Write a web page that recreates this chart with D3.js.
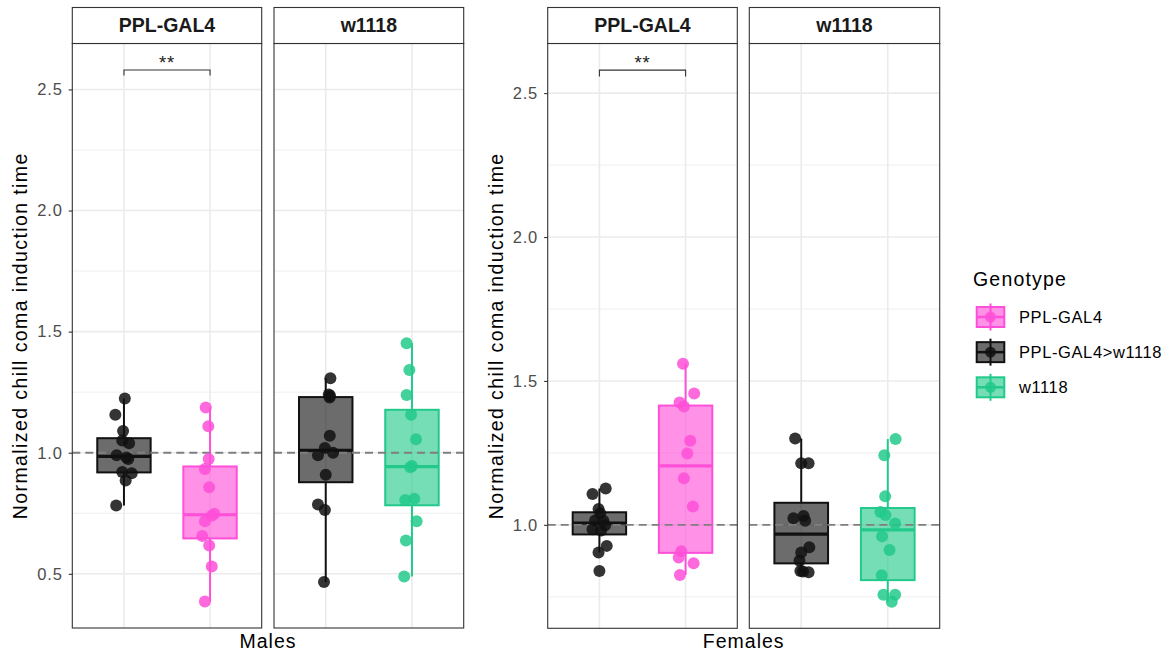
<!DOCTYPE html>
<html><head><meta charset="utf-8">
<script src="https://cdn.jsdelivr.net/npm/d3@7"></script>
<style>
html,body{margin:0;padding:0;background:#fff;}
svg{display:block;font-family:"Liberation Sans",Arial,Helvetica,sans-serif;}
</style></head>
<body><svg id="chart" width="1171" height="655"></svg>
<script>
// ---------------- DATA ----------------
const genotypes = ["PPL-GAL4", "PPL-GAL4>w1118", "w1118"];
const facets = ["PPL-GAL4", "w1118"];
const sexes = ["Males", "Females"];
const yTitle = "Normalized chill coma induction time";
const majorTicks = [0.5, 1.0, 1.5, 2.0, 2.5];
const minorTicks = [0.25, 0.75, 1.25, 1.75, 2.25];
const refLine = 1.0;
const signifLabel = "**";
const signifY = 2.58;
const signifTip = 0.022;

// Males, facet PPL-GAL4
const malesPPL_cross = [1.224, 1.157, 1.09, 1.05, 1.039, 0.99, 0.98, 0.974, 0.92, 0.915, 0.885, 0.782];
const malesPPL_cross_jit = [0.01, -0.10, -0.01, -0.02, 0.06, -0.085, 0.03, 0.05, -0.02, 0.09, 0.02, -0.09];
const malesPPL_gal4 = [1.187, 1.109, 0.974, 0.933, 0.857, 0.748, 0.74, 0.717, 0.656, 0.617, 0.53, 0.386];
const malesPPL_gal4_jit = [-0.05, -0.02, -0.016, -0.06, -0.01, 0.05, 0.02, -0.06, -0.09, -0.01, 0.02, -0.06];
// Males, facet w1118
const malesW_cross = [1.308, 1.24, 1.235, 1.228, 1.07, 1.02, 1.0, 0.99, 0.909, 0.786, 0.764, 0.466];
const malesW_cross_jit = [0.054, 0.035, 0.05, 0.045, 0.047, -0.01, 0.085, -0.09, 0.0, -0.09, -0.01, -0.02];
const malesW_w1118 = [1.452, 1.342, 1.238, 1.157, 1.056, 0.945, 0.94, 0.81, 0.805, 0.717, 0.638, 0.489];
const malesW_w1118_jit = [-0.062, -0.03, -0.062, -0.01, 0.047, 0.0, -0.02, 0.027, -0.078, 0.054, -0.07, -0.09];
// Females, facet PPL-GAL4
const femalesPPL_cross = [1.126, 1.107, 1.055, 1.04, 1.015, 1.014, 0.999, 0.985, 0.98, 0.927, 0.904, 0.84];
const femalesPPL_cross_jit = [0.073, -0.08, -0.01, 0.01, -0.05, 0.046, 0.066, -0.08, 0.02, 0.085, -0.01, 0.0];
const femalesPPL_gal4 = [1.56, 1.456, 1.425, 1.411, 1.292, 1.248, 1.162, 1.064, 0.908, 0.887, 0.867, 0.826];
const femalesPPL_gal4_jit = [-0.03, 0.1, -0.07, -0.02, 0.054, 0.02, -0.02, 0.085, -0.05, -0.08, 0.093, -0.066];
// Females, facet w1118
const femalesW_cross = [1.3, 1.214, 1.214, 1.031, 1.023, 1.014, 0.922, 0.904, 0.875, 0.84, 0.838, 0.835];
const femalesW_cross_jit = [-0.07, 0.0, 0.085, 0.027, -0.09, 0.046, 0.093, 0.0, -0.02, -0.01, 0.02, 0.085];
const femalesW_w1118 = [1.298, 1.242, 1.099, 1.045, 1.034, 1.005, 0.96, 0.913, 0.825, 0.757, 0.757, 0.733];
const femalesW_w1118_jit = [0.09, -0.04, -0.03, -0.085, -0.027, 0.085, -0.066, 0.02, -0.07, -0.05, 0.085, 0.046];

// ---------------- STYLE / LAYOUT ----------------
const colorScale = d3.scaleOrdinal().domain(genotypes).range(["#FF4FD8", "#111111", "#22C98B"]);
const FONT_GREY = "#4D4D4D";
const BORDER = "#333333";
const GRID = "#EBEBEB";

const plots = [
  { sex: sexes[0], titleX: 26.7, panels: [[72.3, 261.7], [274, 463.7]], bottom: 628,
    groups: [
      [{ g: genotypes[1], v: malesPPL_cross, j: malesPPL_cross_jit }, { g: genotypes[0], v: malesPPL_gal4, j: malesPPL_gal4_jit }],
      [{ g: genotypes[1], v: malesW_cross, j: malesW_cross_jit }, { g: genotypes[2], v: malesW_w1118, j: malesW_w1118_jit }]
    ] },
  { sex: sexes[1], titleX: 502.7, panels: [[547.7, 737.3], [749.3, 939.7]], bottom: 628.3,
    groups: [
      [{ g: genotypes[1], v: femalesPPL_cross, j: femalesPPL_cross_jit }, { g: genotypes[0], v: femalesPPL_gal4, j: femalesPPL_gal4_jit }],
      [{ g: genotypes[1], v: femalesW_cross, j: femalesW_cross_jit }, { g: genotypes[2], v: femalesW_w1118, j: femalesW_w1118_jit }]
    ] }
];
const stripTop = 7.5, panelTop = 43.5;

const svg = d3.select("#chart");

function boxStats(vals) {
  const s = vals.slice().sort(d3.ascending);
  const q1 = d3.quantileSorted(s, 0.25), med = d3.quantileSorted(s, 0.5), q3 = d3.quantileSorted(s, 0.75);
  const iqr = q3 - q1;
  const lo = d3.min(s.filter(v => v >= q1 - 1.5 * iqr));
  const hi = d3.max(s.filter(v => v <= q3 + 1.5 * iqr));
  return { q1, med, q3, lo, hi };
}

plots.forEach(p => {
  const allVals = p.groups.flat().flatMap(d => d.v).concat([signifY]);
  const [mn, mx] = d3.extent(allVals);
  const pad = (mx - mn) * 0.05;
  const y = d3.scaleLinear().domain([mn - pad, mx + pad]).range([p.bottom, panelTop]);
  const g = svg.append("g");

  p.panels.forEach((ext, fi) => {
    const [x0, x1] = ext;
    const grp = p.groups[fi];
    const x = d3.scalePoint().domain(grp.map(d => d.g)).range([x0, x1]).padding(0.6);
    const step = x.step();
    const pg = g.append("g");

    pg.append("rect").attr("x", x0).attr("y", panelTop).attr("width", x1 - x0).attr("height", p.bottom - panelTop).attr("fill", "#fff");
    pg.selectAll(".minor").data(minorTicks.filter(t => t > y.domain()[0] && t < y.domain()[1])).enter().append("line")
      .attr("x1", x0).attr("x2", x1).attr("y1", d => y(d)).attr("y2", d => y(d))
      .attr("stroke", GRID).attr("stroke-width", 0.8);
    pg.selectAll(".major").data(majorTicks.filter(t => t > y.domain()[0] && t < y.domain()[1])).enter().append("line")
      .attr("x1", x0).attr("x2", x1).attr("y1", d => y(d)).attr("y2", d => y(d))
      .attr("stroke", GRID).attr("stroke-width", 1.6);
    pg.selectAll(".vgrid").data(grp).enter().append("line")
      .attr("x1", d => x(d.g)).attr("x2", d => x(d.g)).attr("y1", panelTop).attr("y2", p.bottom)
      .attr("stroke", GRID).attr("stroke-width", 1.6);

    const bw = step * 0.62;
    grp.forEach(d => {
      const s = boxStats(d.v);
      const c = colorScale(d.g);
      const cx = x(d.g);
      pg.append("line").attr("x1", cx).attr("x2", cx).attr("y1", y(s.q3)).attr("y2", y(s.hi)).attr("stroke", c).attr("stroke-width", 2);
      pg.append("line").attr("x1", cx).attr("x2", cx).attr("y1", y(s.q1)).attr("y2", y(s.lo)).attr("stroke", c).attr("stroke-width", 2);
      pg.append("rect").attr("x", cx - bw / 2).attr("y", y(s.q3)).attr("width", bw).attr("height", y(s.q1) - y(s.q3))
        .attr("fill", c).attr("fill-opacity", 0.62).attr("stroke", c).attr("stroke-width", 2);
      pg.append("line").attr("x1", cx - bw / 2).attr("x2", cx + bw / 2).attr("y1", y(s.med)).attr("y2", y(s.med))
        .attr("stroke", c).attr("stroke-width", 3.2);
    });

    pg.append("line").attr("x1", x0).attr("x2", x1).attr("y1", y(refLine)).attr("y2", y(refLine))
      .attr("stroke", "#7F7F7F").attr("stroke-width", 1.8).attr("stroke-dasharray", "8,5");

    grp.forEach(d => {
      const c = colorScale(d.g);
      pg.selectAll(null).data(d.v.map((v, i) => ({ v, j: d.j[i] }))).enter().append("circle")
        .attr("cx", e => x(d.g) + e.j * step).attr("cy", e => y(e.v)).attr("r", 6)
        .attr("fill", c).attr("fill-opacity", 0.85);
    });

    if (fi === 0) {
      const xa = x(grp[0].g), xb = x(grp[1].g);
      pg.append("path")
        .attr("d", `M${xa},${y(signifY - signifTip)}V${y(signifY)}H${xb}V${y(signifY - signifTip)}`)
        .attr("fill", "none").attr("stroke", BORDER).attr("stroke-width", 1.1);
      pg.append("text").attr("x", (xa + xb) / 2).attr("y", y(signifY) - 1).attr("text-anchor", "middle")
        .attr("font-size", 18.5).attr("letter-spacing", 0.8).attr("fill", "#222").text(signifLabel);
    }

    pg.append("rect").attr("x", x0).attr("y", panelTop).attr("width", x1 - x0).attr("height", p.bottom - panelTop)
      .attr("fill", "none").attr("stroke", BORDER).attr("stroke-width", 1.1);
    pg.append("rect").attr("x", x0).attr("y", stripTop).attr("width", x1 - x0).attr("height", panelTop - stripTop)
      .attr("fill", "#fff").attr("stroke", BORDER).attr("stroke-width", 1.1);
    pg.append("text").attr("x", (x0 + x1) / 2).attr("y", (stripTop + panelTop) / 2 + 6.8).attr("text-anchor", "middle")
      .attr("font-size", 19.5).attr("font-weight", "bold").attr("fill", "#1A1A1A").text(facets[fi]);
  });

  const ax = g.append("g").attr("transform", `translate(${p.panels[0][0]},0)`)
    .call(d3.axisLeft(y).tickValues(majorTicks.filter(t => t > y.domain()[0] && t < y.domain()[1]))
      .tickFormat(d3.format(".1f")).tickSize(3.6).tickPadding(6));
  ax.select(".domain").remove();
  ax.selectAll(".tick line").attr("stroke", BORDER).attr("stroke-width", 1.1);
  ax.selectAll(".tick text").attr("fill", FONT_GREY).attr("font-size", 16.5).attr("letter-spacing", 0.8)
    .attr("font-family", "'Liberation Sans',Arial,sans-serif");

  const cy = (panelTop + p.bottom) / 2;
  g.append("text").attr("transform", `translate(${p.titleX},${cy}) rotate(-90)`).attr("text-anchor", "middle")
    .attr("font-size", 19.5).attr("letter-spacing", 1.4).attr("fill", "#000").text(yTitle);

  g.append("text").attr("x", (p.panels[0][0] + p.panels[1][1]) / 2).attr("y", 648).attr("text-anchor", "middle")
    .attr("font-size", 19.5).attr("letter-spacing", 1.0).attr("fill", "#000").text(p.sex);
});

// ---------------- LEGEND ----------------
const lg = svg.append("g").attr("transform", "translate(973,0)");
lg.append("text").attr("x", 0).attr("y", 286).attr("font-size", 19.5).attr("letter-spacing", 1.2).attr("fill", "#000").text("Genotype");
const rowY = d3.scalePoint().domain(genotypes).range([317, 387.3]);
genotypes.forEach(gn => {
  const c = colorScale(gn);
  const cy = rowY(gn);
  const kx = 3.7, kw = 27.6;
  lg.append("line").attr("x1", kx + kw / 2).attr("x2", kx + kw / 2).attr("y1", cy - 13.5).attr("y2", cy + 13.5).attr("stroke", c).attr("stroke-width", 2);
  lg.append("rect").attr("x", kx).attr("y", cy - 10).attr("width", kw).attr("height", 20)
    .attr("fill", c).attr("fill-opacity", 0.62).attr("stroke", c).attr("stroke-width", 2);
  lg.append("line").attr("x1", kx).attr("x2", kx + kw).attr("y1", cy).attr("y2", cy).attr("stroke", c).attr("stroke-width", 2.5);
  lg.append("circle").attr("cx", kx + kw / 2).attr("cy", cy).attr("r", 5.5).attr("fill", c).attr("fill-opacity", 0.85);
  lg.append("text").attr("x", 46).attr("y", cy + 6).attr("font-size", 16.5).attr("letter-spacing", 0.6).attr("fill", "#000").text(gn);
});
</script></body></html>
